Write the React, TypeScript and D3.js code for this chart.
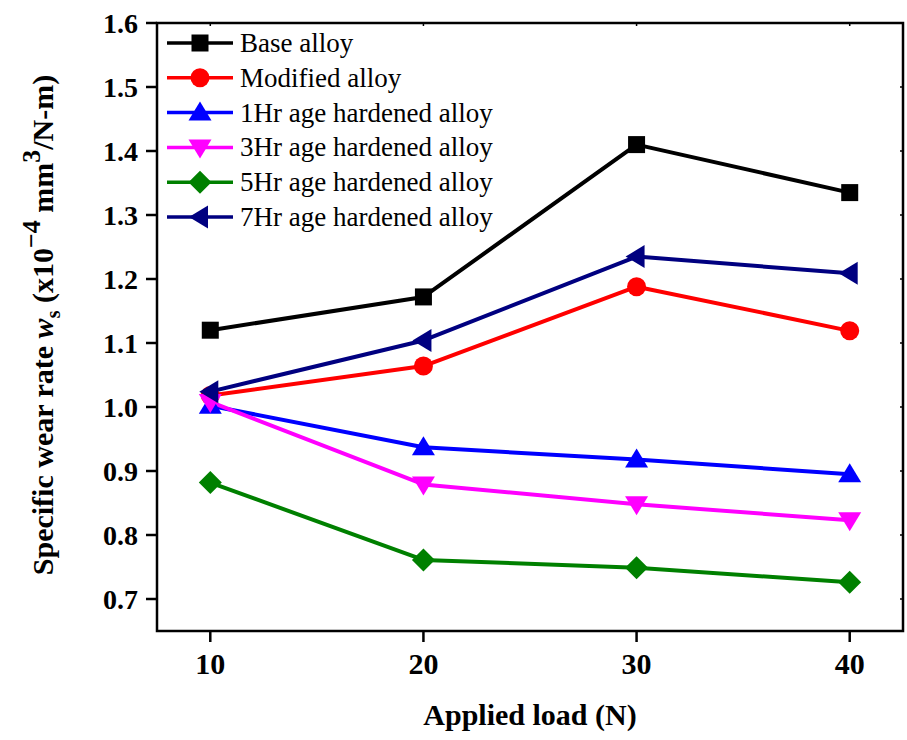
import React from "react";
import * as d3 from "d3";

const loads = [10, 20, 30, 40];
const baseAlloy = [1.12, 1.172, 1.41, 1.335];
const modifiedAlloy = [1.018, 1.064, 1.188, 1.119];
const age1Hr = [1.002, 0.937, 0.918, 0.895];
const age3Hr = [1.008, 0.879, 0.848, 0.823];
const age5Hr = [0.882, 0.761, 0.749, 0.726];
const age7Hr = [1.024, 1.104, 1.235, 1.209];
const seriesNames = [
  "Base alloy",
  "Modified alloy",
  "1Hr age hardened alloy",
  "3Hr age hardened alloy",
  "5Hr age hardened alloy",
  "7Hr age hardened alloy",
];
const yTicks = [0.7, 0.8, 0.9, 1.0, 1.1, 1.2, 1.3, 1.4, 1.5, 1.6];

type Shape = "square" | "circle" | "up" | "down" | "diamond" | "left";

const series: { name: string; values: number[]; color: string; shape: Shape }[] = [
  { name: seriesNames[0], values: baseAlloy, color: "#000000", shape: "square" },
  { name: seriesNames[1], values: modifiedAlloy, color: "#ff0000", shape: "circle" },
  { name: seriesNames[2], values: age1Hr, color: "#0000ff", shape: "up" },
  { name: seriesNames[3], values: age3Hr, color: "#ff00ff", shape: "down" },
  { name: seriesNames[4], values: age5Hr, color: "#008000", shape: "diamond" },
  { name: seriesNames[5], values: age7Hr, color: "#000080", shape: "left" },
];

const W = 907;
const H = 740;
const left = 157;
const right = 903;
const top = 23;
const bottom = 631;
const FONT = "Liberation Serif, Times New Roman, serif";
const textStyle = { fontFamily: FONT };

const x = d3.scaleLinear().domain([7.5, 42.5]).range([left, right]);
const y = d3.scaleLinear().domain([0.65, 1.6]).range([bottom, top]);

function Marker({ shape, cx, cy, color }: { shape: Shape; cx: number; cy: number; color: string }) {
  switch (shape) {
    case "square":
      return <rect x={cx - 8.5} y={cy - 8.5} width={17} height={17} fill={color} />;
    case "circle":
      return <circle cx={cx} cy={cy} r={9.5} fill={color} />;
    case "up":
      return <path d={`M${cx},${cy - 11} L${cx + 11.5},${cy + 8} L${cx - 11.5},${cy + 8} Z`} fill={color} />;
    case "down":
      return <path d={`M${cx},${cy + 11} L${cx + 11.5},${cy - 8} L${cx - 11.5},${cy - 8} Z`} fill={color} />;
    case "diamond":
      return <path d={`M${cx},${cy - 11.5} L${cx + 11.5},${cy} L${cx},${cy + 11.5} L${cx - 11.5},${cy} Z`} fill={color} />;
    case "left":
      return <path d={`M${cx - 11},${cy} L${cx + 8},${cy - 11.5} L${cx + 8},${cy + 11.5} Z`} fill={color} />;
  }
}

export default function App() {
  const line = d3
    .line<number>()
    .x((_, i) => x(loads[i]))
    .y((v) => y(v));

  const legendX = 167;
  const legendY0 = 43;
  const legendStep = 34.8;

  return (
    <svg width={W} height={H} style={{ position: "absolute", left: 0, top: 0 }}>
      <rect width={W} height={H} fill="#fff" />

      {/* data lines */}
      {series.map((s) => (
        <path key={s.name + "l"} d={line(s.values) || ""} fill="none" stroke={s.color} strokeWidth={4} strokeLinejoin="round" />
      ))}
      {series.map((s) =>
        s.values.map((v, i) => <Marker key={s.name + i} shape={s.shape} cx={x(loads[i])} cy={y(v)} color={s.color} />)
      )}

      {/* frame */}
      <rect x={left} y={top} width={right - left} height={bottom - top} fill="none" stroke="#000" strokeWidth={2.5} />

      {/* y axis ticks and labels */}
      {yTicks.map((t) => (
        <g key={"y" + t}>
          <line x1={left - 11} x2={left} y1={y(t)} y2={y(t)} stroke="#000" strokeWidth={2.5} />
          <line x1={right - 3} x2={right} y1={y(t)} y2={y(t)} stroke="#000" strokeWidth={1.5} />
          <text x={138} y={y(t)} dy="0.34em" textAnchor="end" fontSize={28} fontWeight="bold" style={textStyle}>
            {d3.format(".1f")(t)}
          </text>
        </g>
      ))}

      {/* x axis ticks and labels */}
      {loads.map((t) => (
        <g key={"x" + t}>
          <line x1={x(t)} x2={x(t)} y1={bottom} y2={bottom + 11} stroke="#000" strokeWidth={2.5} />
          <line x1={x(t)} x2={x(t)} y1={top} y2={top + 3} stroke="#000" strokeWidth={1.5} />
          <text x={x(t)} y={674} textAnchor="middle" fontSize={30} fontWeight="bold" style={textStyle}>
            {t}
          </text>
        </g>
      ))}

      {/* axis titles */}
      <text x={(left + right) / 2} y={725} textAnchor="middle" fontSize={30} fontWeight="bold" style={textStyle}>
        Applied load (N)
      </text>
      <text transform="translate(53,325) rotate(-90)" textAnchor="middle" fontSize={30} fontWeight="bold" style={textStyle}>
        <tspan>Specific wear rate </tspan>
        <tspan fontStyle="italic">w</tspan>
        <tspan fontSize={20} dy={7}>s</tspan>
        <tspan dy={-7}> (x10</tspan>
        <tspan fontSize={26} dy={-13}>−4</tspan>
        <tspan dy={13}> mm</tspan>
        <tspan fontSize={26} dy={-13}>3</tspan>
        <tspan dy={13}>/N-m)</tspan>
      </text>

      {/* legend */}
      {series.map((s, i) => {
        const ly = legendY0 + i * legendStep;
        return (
          <g key={"lg" + s.name}>
            <line x1={legendX} x2={legendX + 66} y1={ly} y2={ly} stroke={s.color} strokeWidth={3.5} />
            <Marker shape={s.shape} cx={legendX + 33} cy={ly} color={s.color} />
            <text x={240} y={ly} dy="0.33em" fontSize={27} style={textStyle}>
              {s.name}
            </text>
          </g>
        );
      })}
    </svg>
  );
}
